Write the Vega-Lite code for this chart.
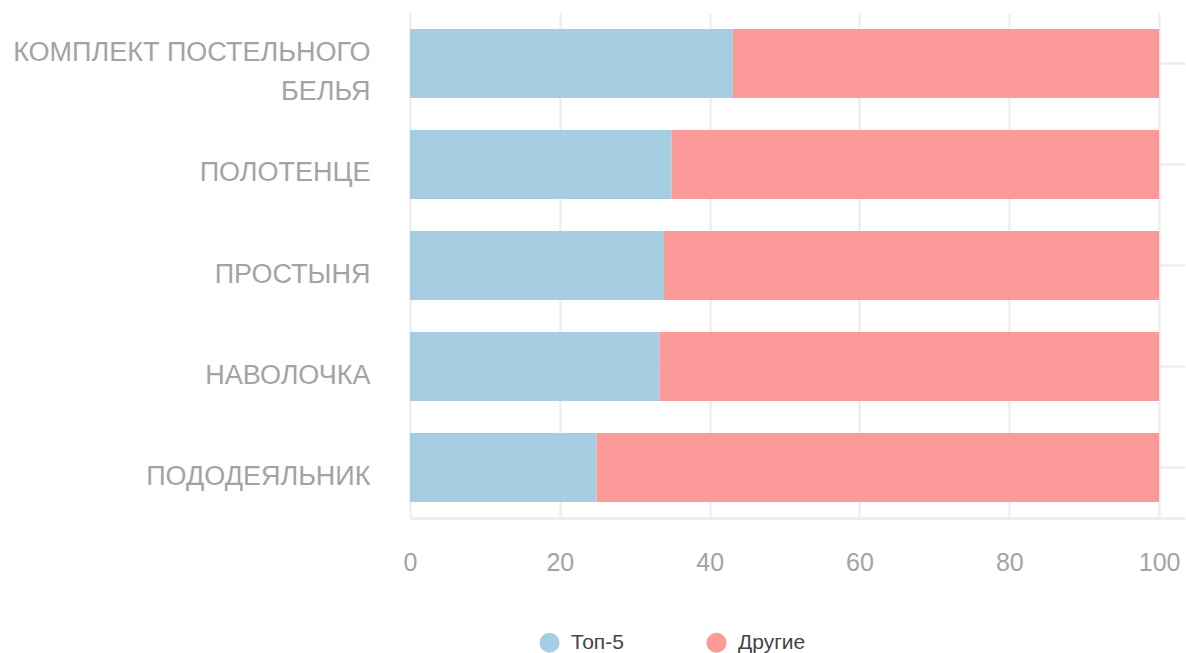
{
  "$schema": "https://vega.github.io/schema/vega-lite/v6.json",
  "width": 775,
  "height": 505,
  "autosize": {"type": "none"},
  "padding": {"left": 410, "top": 13, "right": 1, "bottom": 135},
  "background": "white",
  "config": {
    "view": {"stroke": null},
    "font": "Liberation Sans"
  },
  "data": {
    "values": [
      {"category": "КОМПЛЕКТ ПОСТЕЛЬНОГО БЕЛЬЯ", "group": "Топ-5", "ord": 1, "value": 43.1},
      {"category": "КОМПЛЕКТ ПОСТЕЛЬНОГО БЕЛЬЯ", "group": "Другие", "ord": 2, "value": 56.9},
      {"category": "ПОЛОТЕНЦЕ", "group": "Топ-5", "ord": 1, "value": 34.9},
      {"category": "ПОЛОТЕНЦЕ", "group": "Другие", "ord": 2, "value": 65.1},
      {"category": "ПРОСТЫНЯ", "group": "Топ-5", "ord": 1, "value": 33.9},
      {"category": "ПРОСТЫНЯ", "group": "Другие", "ord": 2, "value": 66.1},
      {"category": "НАВОЛОЧКА", "group": "Топ-5", "ord": 1, "value": 33.3},
      {"category": "НАВОЛОЧКА", "group": "Другие", "ord": 2, "value": 66.7},
      {"category": "ПОДОДЕЯЛЬНИК", "group": "Топ-5", "ord": 1, "value": 24.9},
      {"category": "ПОДОДЕЯЛЬНИК", "group": "Другие", "ord": 2, "value": 75.1}
    ]
  },
  "mark": {"type": "bar"},
  "encoding": {
    "y": {
      "field": "category",
      "type": "nominal",
      "sort": ["КОМПЛЕКТ ПОСТЕЛЬНОГО БЕЛЬЯ", "ПОЛОТЕНЦЕ", "ПРОСТЫНЯ", "НАВОЛОЧКА", "ПОДОДЕЯЛЬНИК"],
      "scale": {"paddingInner": 0.317, "paddingOuter": 0.158},
      "axis": {
        "title": null,
        "domain": false,
        "ticks": false,
        "grid": true,
        "bandPosition": 0.5,
        "gridColor": "#eeeeee",
        "gridWidth": 2.5,
        "labelFont": "Liberation Sans",
        "labelFontSize": 27,
        "labelColor": "#a3a3a3",
        "labelPadding": 40,
        "labelOffset": {"condition": {"test": "datum.value == 'КОМПЛЕКТ ПОСТЕЛЬНОГО БЕЛЬЯ'", "value": -10}, "value": 9},
        "labelLineHeight": 39,
        "labelLimit": 400,
        "labelExpr": "datum.label == 'КОМПЛЕКТ ПОСТЕЛЬНОГО БЕЛЬЯ' ? ['КОМПЛЕКТ ПОСТЕЛЬНОГО', 'БЕЛЬЯ'] : datum.label"
      }
    },
    "x": {
      "field": "value",
      "type": "quantitative",
      "stack": "zero",
      "scale": {"domain": [0, 103.45], "nice": false, "zero": true},
      "axis": {
        "title": null,
        "values": [0, 20, 40, 60, 80, 100],
        "domain": true,
        "domainColor": "#eeeeee",
        "domainWidth": 3,
        "ticks": false,
        "grid": true,
        "gridColor": "#eeeeee",
        "gridWidth": 2.5,
        "labelFont": "Liberation Sans",
        "labelFontSize": 25,
        "labelColor": "#a3a3a3",
        "labelPadding": 32,
        "labelFlush": false
      }
    },
    "order": {"field": "ord", "type": "quantitative"},
    "color": {
      "field": "group",
      "type": "nominal",
      "scale": {"domain": ["Топ-5", "Другие"], "range": ["#a6cee3", "#fb9a99"]},
      "legend": {
        "title": null,
        "orient": "none",
        "direction": "horizontal",
        "legendX": 129,
        "legendY": 619,
        "symbolType": "circle",
        "symbolSize": 400,
        "symbolStrokeWidth": 0,
        "symbolOpacity": 1,
        "labelFont": "Liberation Sans",
        "labelFontSize": 21,
        "labelColor": "#444444",
        "labelOffset": 11,
        "columnPadding": 82,
        "padding": 0
      }
    }
  }
}
